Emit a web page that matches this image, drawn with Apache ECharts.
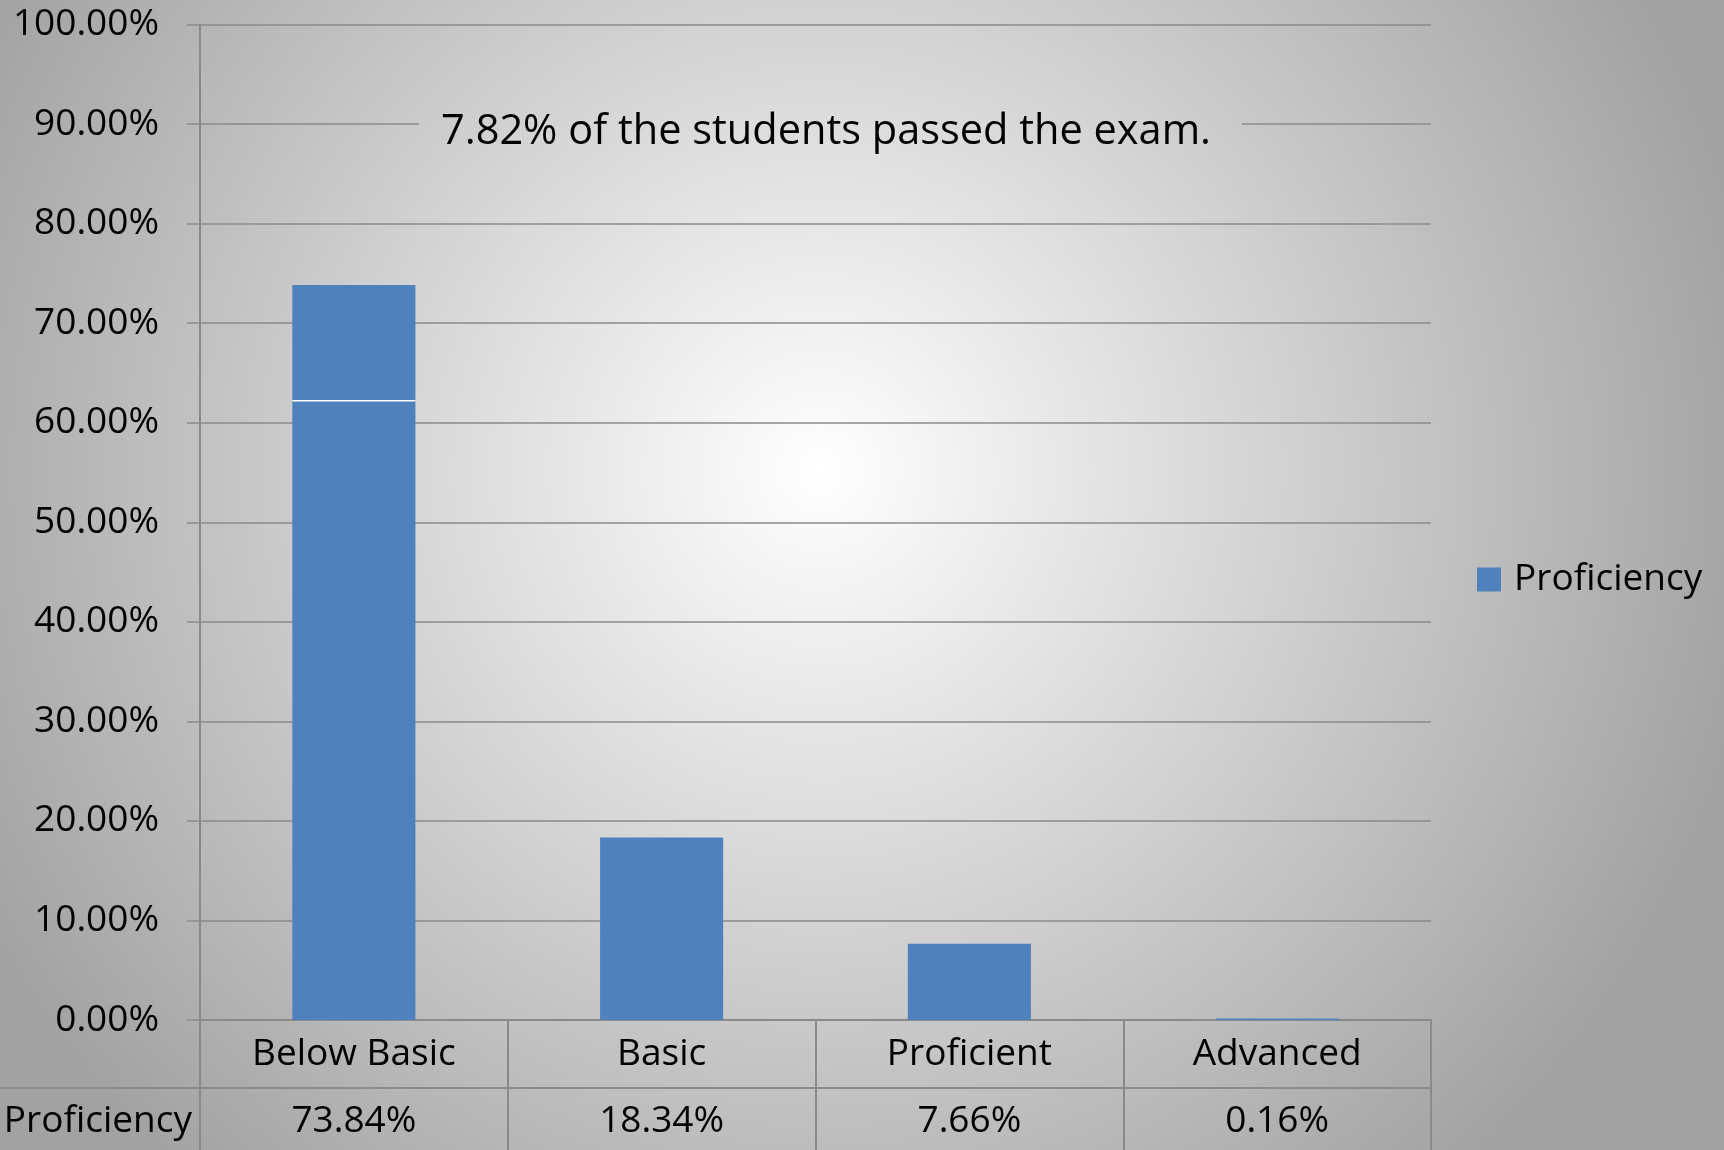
<!DOCTYPE html>
<html>
<head>
<meta charset="utf-8">
<title>Proficiency</title>
<script src="https://cdn.jsdelivr.net/npm/echarts@6/dist/echarts.min.js"></script>
<style>
    html, body { margin: 0; padding: 0; }
    #chart { width: 1724px; height: 1150px; }
</style>
</head>
<body>
<div id="chart"></div>
<script>
// data
var categories = ['Below Basic', 'Basic', 'Proficient', 'Advanced'];
var proficiency = [73.84, 18.34, 7.66, 0.16];
var tableLabels = ['73.84%', '18.34%', '7.66%', '0.16%'];
var seriesName = 'Proficiency';
var note = '7.82% of the students passed the exam.';
// thin white seam seen across the first bar
var seam = [[0, 62.2]];

var lineColor = '#8a8a8a';
var font = 'Open Sans';
var fs = 37;

// background glow, same gradient is reused under the note box
function glow() {
    return new echarts.graphic.RadialGradient(820, 470, 950, [
        { offset: 0, color: '#ffffff' },
        { offset: 1, color: '#a2a2a2' }
    ], true);
}

var chart = echarts.init(document.getElementById('chart'));

var option = {
    backgroundColor: glow(),
    animation: false,
    textStyle: { fontFamily: font, color: '#000' },
    grid: {
        left: 200,
        right: 293,
        top: 24.5,
        bottom: 130
    },
    legend: {
        left: 1472,
        top: 556,
        icon: 'rect',
        itemWidth: 24,
        itemHeight: 24,
        selectedMode: false,
        textStyle: { fontSize: fs, fontFamily: font, color: '#000', padding: [0, 0, 0, 8] },
        data: [seriesName]
    },
    xAxis: [{
        type: 'category',
        data: categories,
        axisLine: { lineStyle: { color: lineColor, width: 2 } },
        axisTick: {
            show: true,
            length: 130, // vertical table lines down to the bottom
            lineStyle: { color: lineColor, width: 2 }
        },
        axisLabel: { fontSize: fs, lineHeight: 37, margin: 16, color: '#000', interval: 0 }
    }, {
        type: 'category',
        data: tableLabels,
        position: 'bottom',
        offset: 68,
        axisLine: { lineStyle: { color: lineColor, width: 2 } },
        axisTick: { show: false },
        axisLabel: { fontSize: fs, lineHeight: 37, margin: 15, color: '#000', interval: 0 },
        name: seriesName,
        nameLocation: 'start',
        nameGap: 8,
        nameTextStyle: {
            fontSize: fs,
            lineHeight: 37,
            color: '#000',
            align: 'right',
            verticalAlign: 'top',
            padding: [15, 0, 0, 0]
        }
    }],
    yAxis: {
        type: 'value',
        min: 0,
        max: 100,
        interval: 10,
        axisLine: { show: true, lineStyle: { color: lineColor, width: 2 } },
        axisTick: { show: true, length: 13, lineStyle: { color: lineColor, width: 1.5 } },
        axisLabel: {
            fontSize: fs,
            margin: 41,
            color: '#000',
            formatter: function (v) { return v.toFixed(2) + '%'; }
        },
        splitLine: { lineStyle: { color: lineColor, width: 1.5 } }
    },
    series: [{
        name: seriesName,
        type: 'bar',
        xAxisIndex: 0,
        barWidth: '40%',
        itemStyle: { color: '#4f81bd' },
        data: proficiency
    }, {
        name: 'seam',
        type: 'custom',
        xAxisIndex: 0,
        silent: true,
        z: 5,
        data: seam,
        renderItem: function (params, api) {
            var p = api.coord([api.value(0), api.value(1)]);
            var w = api.size([1, 0])[0] * 0.4;
            return {
                type: 'line',
                shape: { x1: p[0] - w / 2, y1: p[1], x2: p[0] + w / 2, y2: p[1] },
                style: { stroke: '#ffffff', lineWidth: 1.5 }
            };
        }
    }],
    graphic: [{
        type: 'rect',
        z: 50,
        silent: true,
        shape: { x: 419, y: 100, width: 823, height: 58 },
        style: { fill: glow() }
    }, {
        type: 'text',
        z: 51,
        x: 826,
        y: 132,
        style: {
            text: note,
            fontFamily: font,
            fontSize: 41.5,
            fill: '#000',
            align: 'center',
            verticalAlign: 'middle'
        }
    }, {
        // row divider continues under the row header
        type: 'line',
        z: 50,
        silent: true,
        shape: { x1: 0, y1: 1088, x2: 200, y2: 1088 },
        style: { stroke: lineColor, lineWidth: 2 }
    }]
};

chart.setOption(option);
</script>
</body>
</html>
